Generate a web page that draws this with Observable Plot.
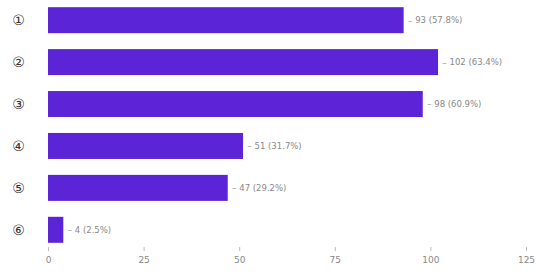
<!DOCTYPE html>
<html>
<head>
<meta charset="utf-8">
<script src="https://cdn.jsdelivr.net/npm/d3@7"></script>
<script src="https://cdn.jsdelivr.net/npm/@observablehq/plot@0.6"></script>
<style>
  html, body { margin: 0; padding: 0; background: #fff; }
  #chart { width: 536px; height: 280px; }
</style>
</head>
<body>
<div id="chart"></div>
<script>
const categories = ["①", "②", "③", "④", "⑤", "⑥"];
const counts = [93, 102, 98, 51, 47, 4];
const percents = ["57.8", "63.4", "60.9", "31.7", "29.2", "2.5"];
const xTicks = [0, 25, 50, 75, 100, 125];

const data = categories.map((c, i) => ({
  cat: c,
  value: counts[i],
  label: `${counts[i]} (${percents[i]}%)`
}));

const chart = Plot.plot({
  width: 536,
  height: 280,
  marginLeft: 48,
  marginRight: 10,
  marginTop: 3,
  marginBottom: 33,
  style: { fontFamily: "DejaVu Sans, sans-serif", fontSize: "9px", color: "#666", background: "#fff" },
  x: { type: "linear", domain: [0, 125], ticks: xTicks, label: null, tickSize: 4 },
  y: { type: "band", domain: categories, label: null, paddingInner: 0.38, paddingOuter: 0.1, round: false, tickSize: 0 },
  marks: [
    Plot.barX(data, { x: "value", y: "cat", fill: "#5b24d6" }),
    Plot.text(data, { x: "value", y: "cat", text: () => "–", dx: 6, textAnchor: "middle", fill: "#999", fontSize: 9 }),
    Plot.text(data, { x: "value", y: "cat", text: "label", dx: 11, textAnchor: "start", fill: "#888", fontSize: 8.5 }),
    Plot.axisY({ tickSize: 0, tickPadding: 30, fontSize: 14, fill: "#333", textAnchor: "middle" }),
    Plot.axisX({ ticks: xTicks, tickSize: 4, fill: "#888", stroke: "#bbb" })
  ]
});
document.getElementById("chart").appendChild(chart);
</script>
</body>
</html>
